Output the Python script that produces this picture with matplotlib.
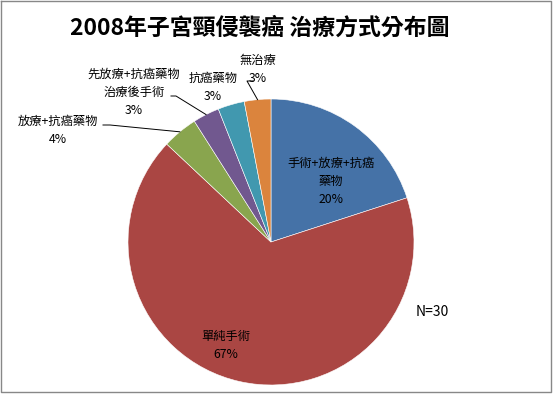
import matplotlib
matplotlib.use('Agg')
import matplotlib.pyplot as plt
import numpy as np

plt.rcParams['font.family'] = ['Noto Sans CJK TC', 'DejaVu Sans']

# data (clockwise from 12 o'clock)
labels = ['手術+放療+抗癌\n藥物', '單純手術', '放療+抗癌藥物',
          '先放療+抗癌藥物\n治療後手術', '抗癌藥物', '無治療']
values = [20, 67, 4, 3, 3, 3]
colors = ['#4572A7', '#AA4643', '#89A54E', '#71588F', '#4198AF', '#DB843D']
title = '2008年子宮頸侵襲癌 治療方式分布圖'
note = 'N=30'

W, H = 555, 394
fig = plt.figure(figsize=(W / 100, H / 100), dpi=100)
ax = fig.add_axes([0, 0, 1, 1])

# pixel -> data (y up)
def P(x, y):
    return x, H - y

cx, cy = P(271, 242)
r = 143
ax.pie(values, colors=colors, startangle=90, counterclock=False,
       center=(cx, cy), radius=r, frame=True,
       wedgeprops=dict(linewidth=0.4, edgecolor='white'))
ax.set_xlim(0, W)
ax.set_ylim(0, H)
ax.set_aspect('equal')
ax.axis('off')

# label text positions (pixel coords) and leader lines
pcts = ['%d%%' % v for v in values]
lab_pos = [(331, 181), (226, 345), (58, 130), (134, 92), (213, 87), (258, 69)]
for i in range(len(values)):
    x, y = P(*lab_pos[i])
    ax.text(x, y, labels[i] + '\n' + pcts[i], ha='center', va='center',
            fontsize=8.8, linespacing=1.5, color='black')

# leader lines: from label to wedge middle
cum = np.cumsum([0] + values)
mids = (cum[:-1] + cum[1:]) / 2 / sum(values) * 2 * np.pi
leader_start = {2: [(103, 125), (110, 125)], 3: [(171, 96), (176, 96)],
                5: [(253, 81), (247, 81)]}
for i, pts in leader_start.items():
    ex = cx + r * np.sin(mids[i])
    ey = cy + r * np.cos(mids[i])
    xs = [P(*p)[0] for p in pts] + [ex]
    ys = [P(*p)[1] for p in pts] + [ey]
    ax.plot(xs, ys, color='black', lw=0.7)

ax.text(*P(260, 28), title, ha='center', va='center', fontsize=16.5,
        fontweight='bold')
ax.text(*P(432, 312), note, ha='center', va='center', fontsize=10)

# chart border
ax.plot([1, 551, 551, 1, 1], [H - 1, H - 1, H - 392, H - 392, H - 1],
        color='#888888', lw=1)

fig.savefig('out.png', dpi=100)
